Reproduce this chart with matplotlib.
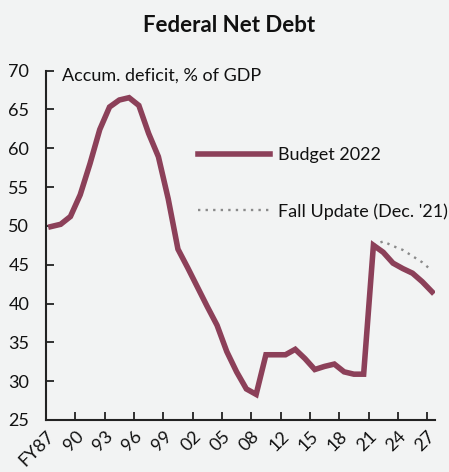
import matplotlib
matplotlib.use("Agg")
import matplotlib.pyplot as plt
import matplotlib.transforms as mtransforms
import numpy as np

plt.rcParams['font.family'] = ['Lato', 'DejaVu Sans']

title = "Federal Net Debt"
ylabel_note = "Accum. deficit, % of GDP"
tick_labels = ["FY87", "90", "93", "96", "99", "02", "05", "08", "12", "15", "18", "21", "24", "27"]
budget_2022 = [49.9, 50.2, 51.2, 54.0, 58.0, 62.4, 65.3, 66.2, 66.5, 65.5,
               61.9, 58.9, 53.5, 47.0, 44.6, 42.1, 39.6, 37.2, 33.8, 31.2,
               29.0, 28.3, 33.4, 33.4, 33.4, 34.1, 32.9, 31.5, 31.9, 32.2,
               31.2, 30.9, 30.9, 47.5, 46.6, 45.2, 44.5, 43.9, 42.8, 41.5]
fall_update_start = 33
fall_update = [47.5, 48.0, 47.4, 46.9, 46.1, 45.3, 44.2]
yticks = [25, 30, 35, 40, 45, 50, 55, 60, 65, 70]

bg = "#f2f3f3"
maroon = "#8c4059"
gray = "#8a8a8a"

fig = plt.figure(figsize=(4.49, 4.72), dpi=100, facecolor=bg)
ax = fig.add_axes([46/449, (472-420)/472, (435-46)/449, (420-70.5)/472], facecolor=bg)

x = np.arange(len(budget_2022))
ax.plot(x, budget_2022, color=maroon, lw=4, solid_joinstyle='miter', label="Budget 2022", zorder=3)
xf = np.arange(fall_update_start, fall_update_start + len(fall_update))
ax.plot(xf, fall_update, color=gray, lw=1.7, ls=(0, (1, 2.2)), label="Fall Update (Dec. '21)", zorder=2)

ax.set_ylim(25, 70)
ax.set_xlim(-0.5, 39.3)
ax.set_yticks(yticks)
ax.set_yticklabels([str(v) for v in yticks], fontsize=13)
tick_pos = np.arange(0, 3 * len(tick_labels), 3) - 0.5
ax.set_xticks(tick_pos)
ax.set_xticklabels(tick_labels, fontsize=13, rotation=45, ha='right', rotation_mode='anchor')
offset = mtransforms.ScaledTranslation(5/100, -3/100, fig.dpi_scale_trans)
for lab in ax.get_xticklabels():
    lab.set_transform(lab.get_transform() + offset)

for s in ['top', 'right']:
    ax.spines[s].set_visible(False)
for s in ['left', 'bottom']:
    ax.spines[s].set_linewidth(1.5)
    ax.spines[s].set_color('#222222')
ax.tick_params(axis='both', direction='in', length=6, width=1.3, color='#222222', labelcolor='#111111')
ax.tick_params(axis='y', pad=12)
ax.tick_params(axis='x', pad=6)

ax.text(0.04, 0.985, ylabel_note, transform=ax.transAxes, fontsize=13, va='center', ha='left', color='#111111')

leg = ax.legend(loc='upper left', bbox_to_anchor=(0.39, 0.78), frameon=False, fontsize=13,
                handlelength=4.0, handletextpad=0.45, labelspacing=2.2, borderpad=0, borderaxespad=0)
for t in leg.get_texts():
    t.set_color('#111111')

fig.text(0.51, 0.947, title, fontsize=16, fontweight='bold', ha='center', va='center', color='#111111')

fig.savefig("out.png", dpi=100, facecolor=bg)
